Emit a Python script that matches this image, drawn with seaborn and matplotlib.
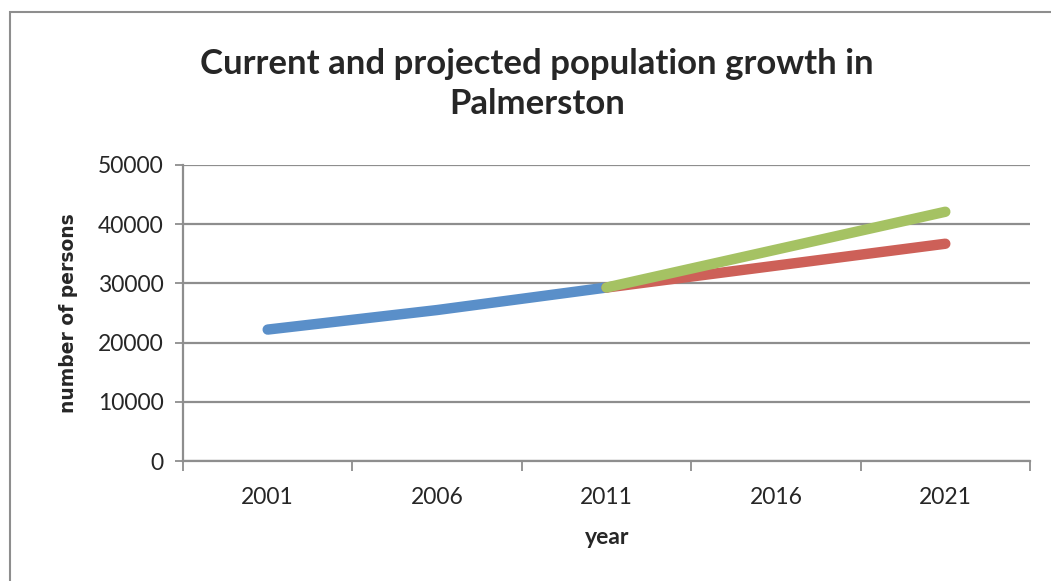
import matplotlib
matplotlib.use("Agg")
import matplotlib.pyplot as plt
import matplotlib.patches as patches
import seaborn as sns
import pandas as pd

years = ["2001", "2006", "2011", "2016", "2021"]
current = [22200, 25500, 29300]
projection_low = [29300, 33000, 36700]
projection_high = [29300, 35700, 42100]
series_names = ["current", "low", "high"]
colors = ["#5A8FC9", "#CD6058", "#A5C263"]

rows = []
for i, v in enumerate(current):
    rows.append({"idx": i, "value": v, "series": "current"})
for i, v in enumerate(projection_low):
    rows.append({"idx": i + 2, "value": v, "series": "low"})
for i, v in enumerate(projection_high):
    rows.append({"idx": i + 2, "value": v, "series": "high"})
df = pd.DataFrame(rows)

sns.set_style("white")
fig = plt.figure(figsize=(10.51, 5.81), dpi=100)
ax = fig.add_axes([183/1051, 1 - 461/581, (1030-183)/1051, (461-165)/581])

sns.lineplot(data=df, x="idx", y="value", hue="series", hue_order=series_names,
             palette=colors, linewidth=7.5, solid_capstyle="round", legend=False, ax=ax,
             sort=False)

ax.set_xlim(-0.5, 4.5)
ax.set_ylim(0, 50000)
ax.set_yticks([0, 10000, 20000, 30000, 40000, 50000])
ax.set_yticklabels([str(v) for v in [0, 10000, 20000, 30000, 40000, 50000]],
                   fontfamily="Lato", fontsize=16.5)
ax.set_xticks([-0.5, 0.5, 1.5, 2.5, 3.5, 4.5])
ax.set_xticklabels([])
ax.set_xticks(range(len(years)), minor=True)
ax.set_xticklabels(years, minor=True, fontfamily="Lato", fontsize=16.5)
ax.tick_params(axis="x", which="major", direction="out", length=7, width=1.3,
               color="#8E8E8E", bottom=True)
ax.tick_params(axis="x", which="minor", length=0, pad=19)
ax.tick_params(axis="y", direction="out", length=6, width=1.3, color="#8E8E8E",
               left=True, pad=8)

ax.grid(axis="y", color="#8E8E8E", linewidth=1.6)
ax.set_axisbelow(True)
for s in ["top", "right"]:
    ax.spines[s].set_visible(False)
for s in ["left", "bottom"]:
    ax.spines[s].set_color("#8E8E8E")
    ax.spines[s].set_linewidth(1.6)

ax.set_xlabel("")
ax.set_ylabel("")
fig.text(607/1051, 1 - 537/581, "year", ha="center", va="center",
         fontfamily="Lato", fontweight="bold", fontsize=16.5)
fig.text(68/1051, 1 - 313/581, "number of persons", ha="center", va="center",
         rotation=90, fontfamily="DejaVu Sans", fontweight="bold", fontsize=13.5)
fig.text(537/1051, 1 - 84/581, "Current and projected population growth in\nPalmerston",
         ha="center", va="center", fontfamily="Lato", fontweight="bold",
         fontsize=25, linespacing=1.27)

rect = patches.Rectangle((10/1051, -0.1), 1.2, (581-12)/581 + 0.1,
                         transform=fig.transFigure, fill=False,
                         edgecolor="#8E8E8E", linewidth=1.5)
fig.patches.append(rect)

fig.savefig("out.png", dpi=100)
